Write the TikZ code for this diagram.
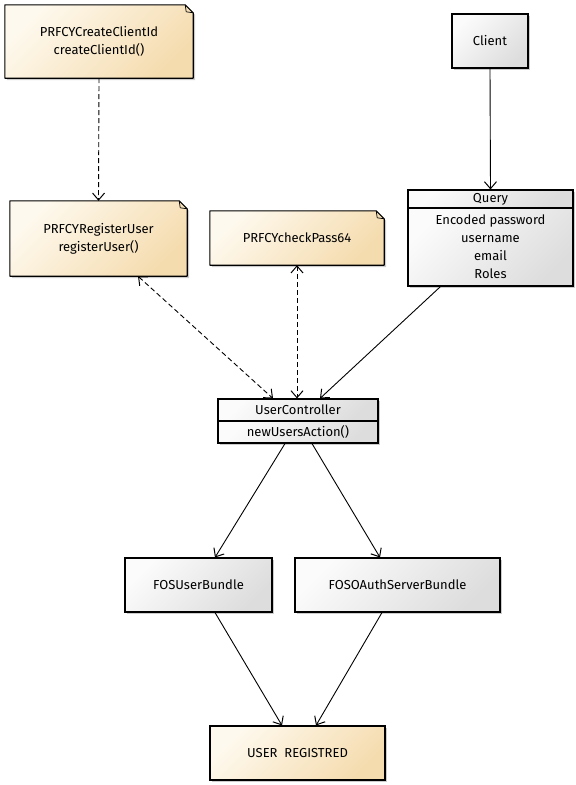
\documentclass[tikz,border=0pt]{standalone}
\usepackage{fontspec}
\setmainfont{Fira Sans}
\usetikzlibrary{arrows.meta,shadows,backgrounds}
\definecolor{notelt}{HTML}{FEF9EE}
\definecolor{notedk}{HTML}{F5DCAF}
\definecolor{graylt}{HTML}{FBFBFB}
\definecolor{graydk}{HTML}{DDDDDD}
\tikzset{
  lbl/.style={inner sep=0pt, align=center, font=\fontsize{13}{18}\selectfont},
  notetext/.style={lbl, draw=none},
  graybox/.style={lbl, draw=black, line width=1.1pt, top color=graylt, bottom color=graydk, shading angle=45,
     drop shadow={shadow xshift=2pt, shadow yshift=-2pt, fill=black, opacity=0.2}},
  creambox/.style={lbl, draw=black, line width=1.1pt, top color=notelt, bottom color=notedk, shading angle=45,
     drop shadow={shadow xshift=2pt, shadow yshift=-2pt, fill=black, opacity=0.2}},
  notefill/.style={top color=notelt, bottom color=notedk, shading angle=45},
  outline/.style={draw=black, line width=1.1pt, line join=round},
  conn/.style={draw=black, line width=0.9pt, -{Straight Barb[length=7pt,width=12pt,line width=1pt]}},
  dconn/.style={conn, dash pattern=on 5pt off 3pt},
  bconn/.style={dconn, {Straight Barb[length=7pt,width=12pt,line width=1pt]}-{Straight Barb[length=7pt,width=12pt,line width=1pt]}}
}
\newcommand\notepath[3]{([xshift=#2,yshift=#3]#1.north west) -- ([xshift=#2-8pt,yshift=#3]#1.north east) -- ([xshift=#2,yshift=#3-8pt]#1.north east) -- ([xshift=#2,yshift=#3]#1.south east) -- ([xshift=#2,yshift=#3]#1.south west) -- cycle}
\newcommand\notebg[1]{%
  \fill[black, opacity=0.2] \notepath{#1}{2pt}{-2pt};
  \shade[notefill] \notepath{#1}{0pt}{0pt};
  \draw[outline] \notepath{#1}{0pt}{0pt};
  \draw[line width=0.7pt, line join=round] ([xshift=-8pt]#1.north east) -- ([xshift=-7pt,yshift=-7pt]#1.north east) -- ([yshift=-8pt]#1.north east);
}
\begin{document}
\begin{tikzpicture}[x=1pt, y=-1pt]
\useasboundingbox (0,0) rectangle (576,785);

% notes (text nodes)
\node[notetext, minimum width=188pt, minimum height=73pt] (cc) at (99,41.5) {PRFCYCreateClientId\\createClientId()};
\node[notetext, minimum width=177pt, minimum height=75pt] (ru) at (98.5,238.5) {PRFCYRegisterUser\\registerUser()};
\node[notetext, minimum width=174pt, minimum height=54pt] (cp) at (297,238) {PRFCYcheckPass64};

\begin{scope}[on background layer]
  \fill[white] (0,0) rectangle (576,785);
  \notebg{cc}
  \notebg{ru}
  \notebg{cp}
\end{scope}

% boxes
\node[creambox, minimum width=175pt, minimum height=54pt] (ur) at (297.5,753) {USER\ \ REGISTRED};
\node[graybox, minimum width=76pt, minimum height=54pt] (cl) at (490,41) {Client};
\node[graybox, minimum width=165pt, minimum height=18pt] (qh) at (490.5,199) {Query};
\node[graybox, minimum width=165pt, minimum height=78pt] (qb) at (490.5,247) {Encoded password\\username\\email\\Roles};
\node[graybox, minimum width=160pt, minimum height=22pt] (uh) at (298,410) {UserController};
\node[graybox, minimum width=160pt, minimum height=22pt] (ub) at (298,432) {newUsersAction()};
\node[graybox, minimum width=147pt, minimum height=54pt] (fu) at (198.5,585) {FOSUserBundle};
\node[graybox, minimum width=205pt, minimum height=54pt] (fo) at (397.5,585) {FOSOAuthServerBundle};

% connectors
\draw[dconn] (cc.south) -- (ru.north);
\draw[conn] (cl.south) -- (qh.north);
\draw[bconn] ([xshift=39.5pt]ru.south) -- ([xshift=-25pt]uh.north);
\draw[bconn] (cp.south) -- ([xshift=-1pt]uh.north);
\draw[conn] ([xshift=-50pt]qb.south) -- ([xshift=22pt]uh.north);
\draw[conn] ([xshift=-13pt]ub.south) -- ([xshift=16.5pt]fu.north);
\draw[conn] ([xshift=14pt]ub.south) -- ([xshift=-17.5pt]fo.north);
\draw[conn] ([xshift=16.5pt]fu.south) -- ([xshift=-15.5pt]ur.north);
\draw[conn] ([xshift=-15.5pt]fo.south) -- ([xshift=18.5pt]ur.north);
\end{tikzpicture}
\end{document}
